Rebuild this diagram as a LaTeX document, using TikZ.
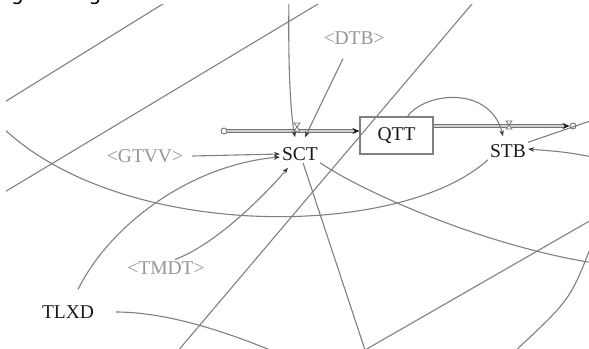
\documentclass[tikz,border=0pt]{standalone}
\usepackage{fontspec}
\setmainfont{Liberation Serif}
\newfontfamily\capsans{DejaVu Sans}
\usepackage{tikz}
\usepackage{xcolor}
\usetikzlibrary{arrows.meta, positioning}
\definecolor{cLink}{RGB}{128,128,128}
\definecolor{cGhost}{RGB}{150,150,150}
\definecolor{cName}{RGB}{25,25,25}
\definecolor{cPipe}{RGB}{115,115,115}
\definecolor{cTip}{RGB}{55,55,55}
\newcommand{\varsize}{\fontsize{19.5bp}{23bp}\selectfont}
\tikzset{
	var/.style   ={font=\varsize, text=cName, inner sep=2bp},
	ghost/.style ={var, text=cGhost},
	stock/.style ={rectangle, draw=cLink, line width=1.1bp, minimum width=73bp, minimum height=37bp, var},
	cloud/.style ={circle, draw=cPipe, fill=white, line width=0.9bp, minimum size=6bp, inner sep=0pt},
	wire/.style  ={draw=cLink, line width=1.1bp},
	link/.style  ={wire, -{Stealth[length=6bp, width=4.5bp, color=cTip]}},
	pipe/.style  ={draw=cPipe, line width=0.9bp, double=cGhost!45, double distance=1.8bp, -{Stealth[length=7bp, width=6bp, color=cName]}},
	valve/.style ={draw=cPipe, line width=0.7bp, fill=white},
}

\begin{document}
\begin{tikzpicture}[x=1bp, y=-1bp]
	\useasboundingbox (0,0) rectangle (589,348);
	% bits of the line above
	\node[font=\capsans\fontsize{20bp}{24bp}\selectfont, anchor=base, inner sep=0pt] (gA) at (17.5,0.5) {g};
	\node[font=\capsans\fontsize{20bp}{24bp}\selectfont, anchor=base, inner sep=0pt] (gB) at (95,0.5) {g};
	\begin{scope}
		\clip (6,4) rectangle (589,348);
		% variables
		\node[var]   (sct)  at (300,154) {SCT};
		\node[stock] (qtt)  at (396.5,135.5) {QTT};
		\node[var]   (stb)  at (508,151) {STB};
		\node[var]   (tlxd) at (68,312) {TLXD};
		\node[ghost] (gtvv) at (145,156) {<GTVV>};
		\node[ghost] (dtb)  at (354,38) {<DTB>};
		\node[ghost] (tmdt) at (166,268) {<TMDT>};
		% flows
		\node[cloud] (src) at (224,131) {};
		\node[cloud] (snk) at (573,126) {};
		\draw[pipe] (src) -- (qtt.west |- src);
		\draw[pipe] (qtt.east |- snk) -- (snk);
		\draw[valve, shift={(297,127)}] (-3,-4) -- (3,-4) -- (-3,4) -- (3,4) -- cycle;
		\draw[valve, shift={(509,125)}] (-3,-4) -- (3,-4) -- (-3,4) -- (3,4) -- cycle;
		% free ends outside the frame
		\coordinate (upTop)   at (289,-2);
		\coordinate (arcLeft) at (-2,123);
		\coordinate (stbOut)  at (593,120);
		\coordinate (stbIn)   at (593,157);
		\coordinate (sctOutA) at (594,263);
		\coordinate (sctOutB) at (365,350);
		\coordinate (tlxdOut) at (275,352);
		\coordinate (lnA1) at (3,103);   \coordinate (lnA2) at (166,2);
		\coordinate (lnB1) at (3,193);   \coordinate (lnB2) at (323,1);
		\coordinate (lnD1) at (477,-2);  \coordinate (lnD2) at (177,352);
		\coordinate (lnH1) at (593,219); \coordinate (lnH2) at (365,350);
		\coordinate (lnI1) at (592,244); \coordinate (lnI2) at (514,352);
		% links into the rates
		\draw[link] (upTop) .. controls (288,60) and (290,110) .. ([shift={(-5,-8)}]sct.north);
		\draw[link] ([shift={(-11,12)}]dtb.south) -- ([shift={(5,-8)}]sct.north);
		\draw[link] ([xshift=7bp]gtvv.east) -- (sct.west);
		\draw[link] ([shift={(10,-14)}]tlxd.north) .. controls (110,225) and (190,165) .. ([yshift=-3bp]sct.west);
		\draw[link] ([xshift=9bp]tmdt.north) .. controls (215,245) and (265,195) .. ([shift={(-12,5)}]sct.south);
		\draw[link] ([xshift=11bp]qtt.north) .. controls (425,92) and (490,85) .. ([shift={(-5,-6)}]stb.north);
		\draw[link] (stbIn) .. controls (565,152) .. ([yshift=2bp]stb.east);
		% links going out
		\draw[wire] (stb.south west) .. controls (400,240) and (115,242) .. (arcLeft);
		\draw[wire] (stb.north east) -- (stbOut);
		\draw[wire] (sct.south east) .. controls (360,190) and (480,245) .. (sctOutA);
		\draw[wire] ([xshift=3bp]sct.south) -- (sctOutB);
		\draw[wire] ([xshift=20bp]tlxd.east) .. controls (160,312) and (215,327) .. (tlxdOut);
		% crossing links
		\draw[wire] (lnA1) -- (lnA2);
		\draw[wire] (lnB1) -- (lnB2);
		\draw[wire] (lnD1) -- (lnD2);
		\draw[wire] (lnH1) -- (lnH2);
		\draw[wire] (lnI1) .. controls (570,300) .. (lnI2);
	\end{scope}
\end{tikzpicture}
\end{document}
